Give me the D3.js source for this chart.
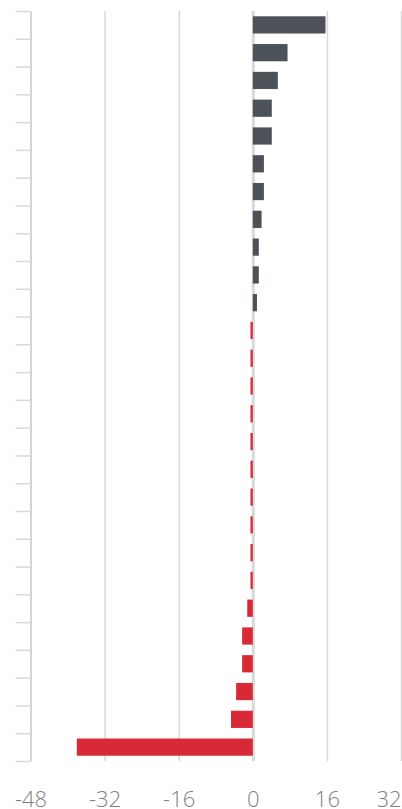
<!DOCTYPE html>
<html>
<head>
<meta charset="utf-8">
<script src="https://cdn.jsdelivr.net/npm/d3@7"></script>
<style>
  body { margin: 0; background: #fff; }
  svg { display: block; }
</style>
</head>
<body>
<div id="chart"></div>
<script>
// rows top to bottom (no labels visible in the picture)
const categories = d3.range(1, 28).map(i => "row " + i);
const values = [
  15.7, 7.5, 5.4, 4.1, 4.1, 2.4, 2.4, 1.9, 1.3, 1.3, 0.9,
  -0.5, -0.5, -0.5, -0.5, -0.5, -0.5, -0.5, -0.5, -0.5, -0.5,
  -1.2, -2.3, -2.3, -3.6, -4.7, -38
];
const xTicks = [-48, -32, -16, 0, 16, 32];

const width = 402;
const height = 809;
const plotTop = 11;
const plotBottom = 761;

const data = categories.map((c, i) => ({ name: c, value: values[i] }));

const svg = d3
  .select("#chart")
  .append("svg")
  .attr("width", width)
  .attr("height", height);

const x = d3.scaleLinear().domain([-48, 32]).range([30.5, 401]);

const y = d3
  .scaleBand()
  .domain(categories)
  .range([plotTop, plotBottom])
  .paddingInner(0.38)
  .paddingOuter(0.19);

// vertical gridlines
const grid = svg
  .append("g")
  .attr("transform", `translate(0,${plotBottom})`)
  .call(
    d3.axisBottom(x)
      .tickValues(xTicks.filter(d => d !== -48))
      .tickSize(-(plotBottom - plotTop))
      .tickFormat("")
  );
grid.select(".domain").remove();
grid
  .selectAll(".tick line")
  .attr("stroke", "#d9d9d9")
  .attr("stroke-width", d => (d === 0 ? 3 : 1.5));

// bars
svg
  .append("g")
  .selectAll("rect")
  .data(data)
  .join("rect")
  .attr("x", d => x(Math.min(0, d.value)))
  .attr("y", d => y(d.name))
  .attr("width", d => Math.abs(x(d.value) - x(0)))
  .attr("height", y.bandwidth())
  .attr("fill", d => (d.value >= 0 ? "#4c5258" : "#d82a36"));

// left axis with ticks on band boundaries
const yEdges = d3
  .scaleLinear()
  .domain([0, categories.length])
  .range([plotTop, plotBottom]);

const left = svg
  .append("g")
  .attr("transform", `translate(${x(-48)},0)`)
  .call(
    d3.axisLeft(yEdges)
      .tickValues(d3.range(categories.length + 1))
      .tickSize(15)
      .tickSizeOuter(0)
      .tickFormat("")
  );
left.select(".domain").attr("stroke", "#d4d4d4").attr("stroke-width", 2);
left.selectAll(".tick line").attr("stroke", "#d9d9d9").attr("stroke-width", 1.5);

// bottom labels (plain hyphen like the original)
const xAxis = svg
  .append("g")
  .attr("transform", `translate(0,${plotBottom})`)
  .call(
    d3.axisBottom(x)
      .tickValues(xTicks)
      .tickSize(0)
      .tickPadding(30)
      .tickFormat(d => String(d))
  );
xAxis.select(".domain").remove();
xAxis
  .selectAll("text")
  .attr("fill", "#7f7f7f")
  .style("font-family", "'Open Sans', 'Noto Sans', sans-serif")
  .style("font-weight", 300)
  .style("font-size", "22px");
// last label is pulled in so it ends at the chart edge
xAxis
  .selectAll("text")
  .filter(d => d === d3.max(xTicks))
  .attr("text-anchor", "end");
</script>
</body>
</html>
